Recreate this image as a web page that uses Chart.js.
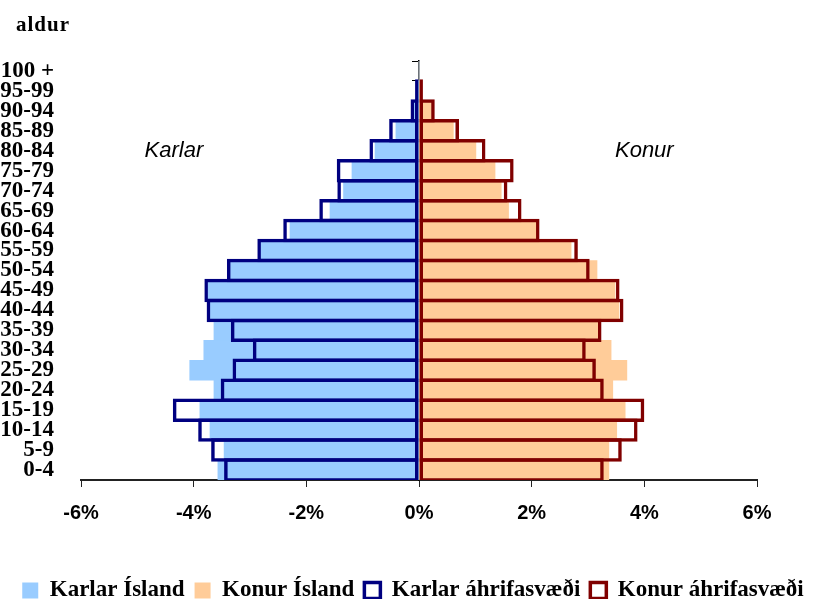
<!DOCTYPE html>
<html lang="is">
<head>
  <meta charset="UTF-8">
  <title>Aldurspíramídi</title>
  <script src="https://cdn.jsdelivr.net/npm/chart.js"></script>
  <style>
    html, body { margin: 0; padding: 0; background: #fff; }
    #wrap { width: 826px; height: 599px; }
  </style>
</head>
<body>
  <div id="wrap"><canvas id="pyramid"></canvas></div>

  <script>
    // aldursflokkar, neðst til efst
    const aldur = ['0-4','5-9','10-14','15-19','20-24','25-29','30-34','35-39','40-44','45-49',
                   '50-54','55-59','60-64','65-69','70-74','75-79','80-84','85-89','90-94','95-99','100 +'];

    // hlutfall af mannfjölda (%), karlar neikvæðir
    const karlarIsland = [-3.57,-3.46,-3.71,-3.89,-3.64,-4.07,-3.82,-3.64,-3.72,-3.75,
                          -3.38,-2.82,-2.29,-1.58,-1.34,-1.19,-0.78,-0.41,-0.10,-0.02,0];
    const konurIsland  = [3.37,3.37,3.51,3.66,3.44,3.69,3.41,3.20,3.55,3.48,
                          3.16,2.70,2.10,1.59,1.46,1.35,1.01,0.61,0.22,0.03,0];
    const karlarAhrif  = [-3.46,-3.69,-3.92,-4.37,-3.52,-3.31,-2.95,-3.34,-3.77,-3.81,
                          -3.41,-2.87,-2.41,-1.77,-1.45,-1.46,-0.88,-0.53,-0.15,-0.07,0];
    const konurAhrif   = [3.28,3.60,3.88,4.00,3.28,3.14,2.96,3.24,3.63,3.56,
                          3.03,2.82,2.14,1.82,1.57,1.68,1.18,0.71,0.28,0.07,0];

    const xTicks = [-6, -4, -2, 0, 2, 4, 6];
    const hlidar = ['Karlar', 'Konur'];
    const hlidX = [-4.35, 4.0];
    const hlidRow = '80-84';

    const serif = '"Liberation Serif", "Times New Roman", serif';
    const sans = '"Liberation Sans", Arial, sans-serif';

    const textar = {
      id: 'textar',
      afterDraw(chart) {
        const { ctx, chartArea, scales: { x, y } } = chart;
        ctx.save();
        ctx.fillStyle = '#000';
        ctx.textBaseline = 'middle';
        ctx.textAlign = 'left';
        ctx.font = 'bold 21px ' + serif;
        ctx.letterSpacing = '1px';
        ctx.fillText('aldur', chartArea.left - 65, chartArea.top - 35);
        ctx.letterSpacing = '0px';
        ctx.textAlign = 'center';
        ctx.font = 'italic 22px ' + sans;
        const yy = y.getPixelForValue(aldur.indexOf(hlidRow));
        hlidar.forEach((t, i) => ctx.fillText(t, x.getPixelForValue(hlidX[i]), yy));
        ctx.restore();
      }
    };

    new Chart(document.getElementById('pyramid'), {
      type: 'bar',
      data: {
        labels: aldur,
        datasets: [
          { label: 'Karlar Ísland', data: karlarIsland, backgroundColor: '#99CCFF', borderWidth: 0, order: 2 },
          { label: 'Konur Ísland', data: konurIsland, backgroundColor: '#FFCC99', borderWidth: 0, order: 2 },
          { label: 'Karlar áhrifasvæði', data: karlarAhrif, backgroundColor: 'rgba(0,0,0,0)',
            borderColor: '#000080', borderWidth: 3.5, borderSkipped: false, barPercentage: 1.175, order: 1 },
          { label: 'Konur áhrifasvæði', data: konurAhrif, backgroundColor: 'rgba(0,0,0,0)',
            borderColor: '#800000', borderWidth: 3.5, borderSkipped: false, barPercentage: 1.175, order: 1 }
        ]
      },
      options: {
        indexAxis: 'y',
        responsive: true,
        maintainAspectRatio: false,
        animation: false,
        datasets: { bar: { grouped: false, categoryPercentage: 1, barPercentage: 1 } },
        layout: { padding: { top: 61, right: 0, bottom: -13, left: 0 } },
        scales: {
          x: {
            min: -6, max: 6,
            afterBuildTicks: s => { s.ticks = xTicks.map(v => ({ value: v })); },
            afterFit: s => { s.height += 30; },
            grid: { drawOnChartArea: false, drawTicks: true, tickLength: 7, color: '#222' },
            border: { display: true, color: '#222', width: 2 },
            ticks: { padding: 14, color: '#000', font: { family: sans, size: 20, weight: 'bold' },
                     callback: v => v + '%' }
          },
          y: {
            reverse: true,
            afterFit: s => { s.width = 81; },
            grid: { display: false },
            border: { display: false },
            ticks: { autoSkip: false, padding: 19, color: '#000', font: { family: serif, size: 23, weight: 'bold' } }
          },
          yc: {
            type: 'category',
            axis: 'y',
            labels: aldur,
            reverse: true,
            offset: true,
            position: { x: 0 },
            z: 1,
            grid: { offset: true, drawOnChartArea: false, drawTicks: true, tickLength: 6, color: '#000' },
            border: { display: true, color: '#000', width: 1.5 },
            ticks: { display: false }
          },
          yr: {
            type: 'category',
            axis: 'y',
            labels: aldur,
            position: 'right',
            afterFit: s => { s.width = 69; },
            grid: { display: false },
            border: { display: false },
            ticks: { display: false }
          }
        },
        plugins: {
          legend: {
            position: 'bottom',
            labels: {
              boxWidth: 16, boxHeight: 16, padding: 10, color: '#000',
              font: { family: serif, size: 23, weight: 'bold' },
              sort: (a, b) => a.datasetIndex - b.datasetIndex
            }
          },
          tooltip: { enabled: false }
        }
      },
      plugins: [textar]
    });
  </script>
</body>
</html>
